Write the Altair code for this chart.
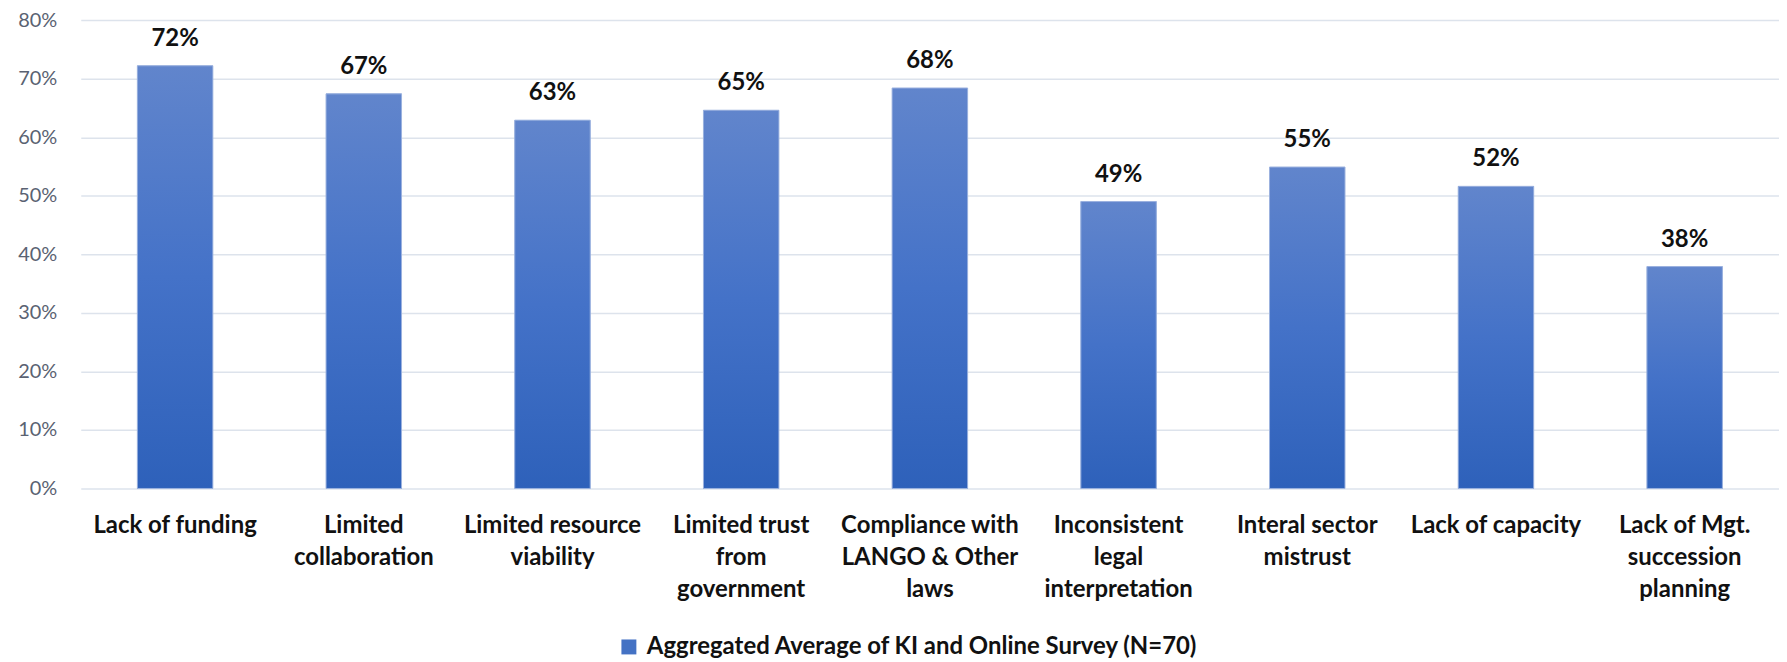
import altair as alt
import pandas as pd

categories = [
    "Lack of funding",
    "Limited\ncollaboration",
    "Limited resource\nviability",
    "Limited trust\nfrom\ngovernment",
    "Compliance with\nLANGO & Other\nlaws",
    "Inconsistent\nlegal\ninterpretation",
    "Interal sector\nmistrust",
    "Lack of capacity",
    "Lack of Mgt.\nsuccession\nplanning",
]
values = [0.722, 0.674, 0.629, 0.646, 0.684, 0.490, 0.549, 0.516, 0.379]
labels = ["72%", "67%", "63%", "65%", "68%", "49%", "55%", "52%", "38%"]
series_name = "Aggregated Average of KI and Online Survey (N=70)"
y_ticks = [0, 0.1, 0.2, 0.3, 0.4, 0.5, 0.6, 0.7, 0.8]

df = pd.DataFrame({
    "category": categories,
    "value": values,
    "label": labels,
    "series": [series_name] * len(categories),
})

FONT = "Lato"

x_enc = alt.X(
    "category:N",
    sort=categories,
    title=None,
    scale=alt.Scale(paddingInner=0.6, paddingOuter=0.3),
    axis=alt.Axis(
        labelExpr="split(datum.label, '\\n')",
        labelAngle=0,
        labelFont=FONT,
        labelFontSize=24,
        labelFontWeight="bold",
        labelColor="#111111",
        labelLineHeight=32,
        labelPadding=25,
        labelBaseline="top",
        ticks=False,
        domain=False,
        grid=False,
        labelLimit=400,
    ),
)
y_enc = alt.Y(
    "value:Q",
    title=None,
    scale=alt.Scale(domain=[0, 0.8], nice=False),
    axis=alt.Axis(
        values=y_ticks,
        format=".0%",
        labelFont=FONT,
        labelFontSize=20,
        labelColor="#5a6272",
        labelPadding=24,
        ticks=False,
        domain=False,
        grid=True,
        gridColor="#dde3ec",
        gridWidth=1.5,
    ),
)

base = alt.Chart(df)

legend_bars = base.mark_bar().encode(
    x=x_enc,
    y=y_enc,
    color=alt.Color(
        "series:N",
        scale=alt.Scale(range=["#4472c4"]),
        legend=alt.Legend(
            title=None,
            orient="none",
            legendX=538,
            legendY=617,
            symbolType="square",
            symbolSize=225,
            symbolStrokeWidth=0,
            labelOffset=6,
            labelFont=FONT,
            labelFontSize=24,
            labelFontWeight="bold",
            labelColor="#111111",
            labelLimit=800,
            padding=0,
        ),
    ),
)

grad_bars = base.mark_bar(
    color=alt.Gradient(
        gradient="linear",
        stops=[
            alt.GradientStop(color="#6185cc", offset=0),
            alt.GradientStop(color="#4472c8", offset=0.5),
            alt.GradientStop(color="#2e61ba", offset=1),
        ],
        x1=0, x2=0, y1=0, y2=1,
    ),
    stroke="#9db3df",
    strokeWidth=1,
).encode(x=x_enc, y=y_enc)

text = base.mark_text(
    dy=-20,
    baseline="alphabetic",
    font=FONT,
    fontSize=24,
    fontWeight="bold",
    color="#111111",
).encode(x=x_enc, y=y_enc, text="label:N")

chart = alt.layer(legend_bars, grad_bars, text).properties(
    width=1704,
    height=470,
    autosize=alt.AutoSizeParams(type="none"),
    padding={"left": 73, "top": 11, "right": 0, "bottom": 172},
).configure_view(stroke=None)

chart.save("out.html", embed_options={"renderer": "svg", "actions": False})
